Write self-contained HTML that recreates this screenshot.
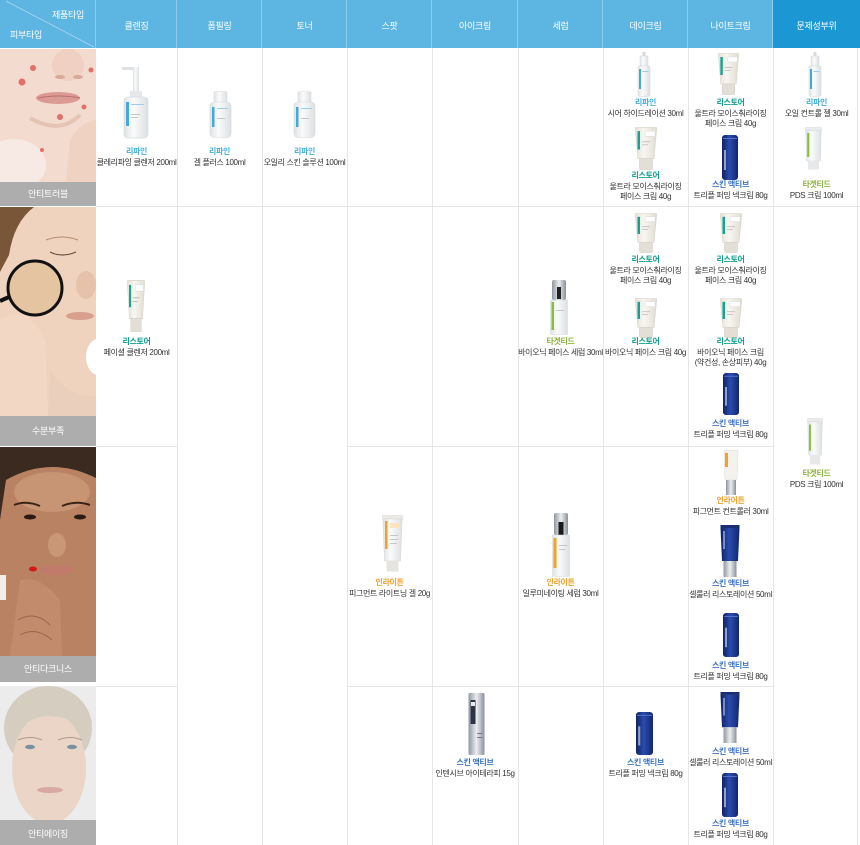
<!DOCTYPE html>
<html><head><meta charset="utf-8">
<style>
*{margin:0;padding:0;box-sizing:border-box}
body{width:860px;height:845px;overflow:hidden;background:#fff;position:relative;font-family:"Liberation Sans","Noto Sans CJK KR",sans-serif}
.a{position:absolute}
.ht{position:absolute;top:0;height:48px;color:#fff;font-size:9px;text-align:center;line-height:52px;letter-spacing:-0.3px;white-space:nowrap}
.tb{position:absolute;text-align:center;font-size:8px;line-height:10.5px;color:#333;letter-spacing:-0.35px;white-space:nowrap}
.tb b{display:block;font-weight:bold}
.rf{color:#45b1dc}.rs{color:#14a08e}.sa{color:#3d75c0}.tg{color:#8db342}.en{color:#f0a12e}
.bt{position:absolute;left:0;width:96px;color:#fff;font-size:9px;text-align:center;letter-spacing:-0.3px}
</style></head><body>
<svg class="a" style="left:0;top:0" width="860" height="845" viewBox="0 0 860 845">
<defs>
<linearGradient id="navy" x1="0" x2="1"><stop offset="0" stop-color="#10225f"/><stop offset=".45" stop-color="#2a4cb0"/><stop offset="1" stop-color="#13266a"/></linearGradient>
<linearGradient id="silver" x1="0" x2="1"><stop offset="0" stop-color="#9096a0"/><stop offset=".5" stop-color="#eceef1"/><stop offset="1" stop-color="#8a909a"/></linearGradient>
<linearGradient id="white" x1="0" x2="1"><stop offset="0" stop-color="#dfe2e4"/><stop offset=".4" stop-color="#fafbfb"/><stop offset="1" stop-color="#dcdfe2"/></linearGradient>
<linearGradient id="cream" x1="0" x2="1"><stop offset="0" stop-color="#e6e2d9"/><stop offset=".4" stop-color="#f8f6f1"/><stop offset="1" stop-color="#e1ddd3"/></linearGradient>

<symbol id="pump" viewBox="0 0 32 75" preserveAspectRatio="none">
<rect x="2" y="3" width="15" height="3" rx="1" fill="#dfe2e5"/>
<rect x="13" y="3" width="6" height="28" fill="url(#white)"/>
<rect x="10" y="27" width="12" height="6" fill="#e6e9eb"/>
<rect x="4" y="33" width="24" height="41" rx="4" fill="url(#white)" stroke="#d8dde0" stroke-width=".7"/>
<rect x="6" y="38" width="3" height="24" fill="#46a9db"/>
<rect x="11" y="40" width="13" height="1" fill="#9ecde8"/>
<rect x="11" y="50" width="9" height=".8" fill="#bbb"/>
<rect x="11" y="53" width="7" height=".8" fill="#bbb"/>
</symbol>
<symbol id="bottle" viewBox="0 0 23 47" preserveAspectRatio="none">
<rect x="5" y="0.5" width="13" height="12" rx="1.5" fill="url(#white)" stroke="#d9dde0" stroke-width=".6"/>
<rect x="1" y="11" width="21" height="35.5" rx="4" fill="url(#white)" stroke="#d6dadd" stroke-width=".6"/>
<rect x="3" y="16" width="2.5" height="20" fill="#46a9db"/>
<rect x="8" y="17" width="11" height="1" fill="#9ecde8"/>
<rect x="8" y="27" width="8" height=".8" fill="#bbb"/>
</symbol>
<symbol id="spray" viewBox="0 0 14 45" preserveAspectRatio="none">
<rect x="5.5" y="0" width="3" height="5" fill="#d8dbde"/>
<rect x="3" y="4" width="8" height="10" fill="url(#white)" stroke="#d8dbde" stroke-width=".5"/>
<rect x="1" y="14" width="12" height="30.5" rx="1.5" fill="url(#white)" stroke="#d6dadd" stroke-width=".5"/>
<rect x="2" y="17" width="2" height="20" fill="#46a9db"/>
<rect x="5.5" y="19" width="6" height="1" fill="#9ecde8"/>
</symbol>
<symbol id="rtube" viewBox="0 0 22 42" preserveAspectRatio="none">
<path d="M0.5 0.5H21.5V3.5L19 31H3L0.5 3.5Z" fill="url(#cream)" stroke="#d6d1c6" stroke-width=".6"/>
<rect x="4.5" y="31" width="13" height="10.5" rx="1" fill="#e3dfd6" stroke="#d0cbc1" stroke-width=".5"/>
<rect x="2.5" y="4" width="2.5" height="18" fill="#17a28f"/>
<rect x="10" y="4" width="10" height="5" fill="#fff" stroke="#cfd8d6" stroke-width=".4"/>
<rect x="7" y="14" width="8" height=".8" fill="#bbb"/>
<rect x="7" y="17" width="6" height=".8" fill="#bbb"/>
</symbol>
<symbol id="gtube" viewBox="0 0 17 43" preserveAspectRatio="none">
<rect x="0.5" y="0.5" width="16" height="3" fill="#e9ebec" stroke="#d7dadc" stroke-width=".5"/>
<path d="M0.8 3.5H16.2L15.4 34H1.6Z" fill="url(#white)" stroke="#d7dadc" stroke-width=".5"/>
<rect x="3" y="34" width="11" height="8.5" fill="#e6e8e9"/>
<rect x="2.2" y="6" width="2" height="24" fill="#8dbb3a"/>
</symbol>
<symbol id="otube" viewBox="0 0 21 57" preserveAspectRatio="none">
<rect x="0.5" y="0.5" width="20" height="3.5" fill="#eceae6" stroke="#d9d6d0" stroke-width=".5"/>
<path d="M0.8 4H20.2L18.5 46H2.5Z" fill="url(#white)" stroke="#d9d6d0" stroke-width=".5"/>
<rect x="4.5" y="46" width="12" height="10.5" fill="#e6e4e0"/>
<rect x="3" y="6" width="2.5" height="28" fill="#f2a22a"/>
<rect x="8" y="8" width="9" height="5" fill="#fbe3bf"/>
<rect x="8" y="20" width="8" height=".8" fill="#bbb"/>
<rect x="8" y="24" width="8" height=".8" fill="#bbb"/>
<rect x="8" y="28" width="7" height=".8" fill="#bbb"/>
</symbol>
<symbol id="ntube" viewBox="0 0 20 52" preserveAspectRatio="none">
<rect x="0.5" y="0" width="19" height="3" fill="#1a2d70"/>
<path d="M0.5 3H19.5L18 36H2Z" fill="url(#navy)"/>
<rect x="3.5" y="36" width="13" height="16" fill="url(#silver)"/>
<rect x="3" y="6" width="2" height="18" fill="#9fb3e6" opacity=".7"/>
</symbol>
<symbol id="jar" viewBox="0 0 16 45" preserveAspectRatio="none">
<rect x="0" y="0" width="16" height="45" rx="3" fill="url(#navy)"/>
<rect x="1" y="3" width="14" height="1" fill="#5575d0"/>
<rect x="2" y="15" width="2" height="20" fill="#c8d0e8" opacity=".7"/>
</symbol>
<symbol id="tserum" viewBox="0 0 18 55" preserveAspectRatio="none">
<rect x="2" y="0" width="14" height="20" rx="2" fill="url(#silver)"/>
<rect x="7" y="7" width="4" height="12" fill="#222"/>
<rect x="0.5" y="20" width="17" height="34.5" fill="url(#white)" stroke="#d6d9dc" stroke-width=".5"/>
<rect x="1.5" y="22" width="2.5" height="28" fill="#8dbb3a"/>
<rect x="6" y="30" width="8" height=".8" fill="#bbb"/>
</symbol>
<symbol id="eserum" viewBox="0 0 18 64" preserveAspectRatio="none">
<rect x="2" y="0" width="14" height="22" rx="2" fill="url(#silver)"/>
<rect x="6.5" y="9" width="5" height="13" fill="#1a1a1a"/>
<rect x="0.5" y="22" width="17" height="41.5" fill="url(#white)" stroke="#d6d9dc" stroke-width=".5"/>
<rect x="1.5" y="25" width="3" height="30" fill="#f2a22a"/>
<rect x="7" y="32" width="8" height=".8" fill="#bbb"/>
<rect x="7" y="36" width="6" height=".8" fill="#bbb"/>
</symbol>
<symbol id="pctrl" viewBox="0 0 16 45" preserveAspectRatio="none">
<path d="M1 0.5H15V2.5L14 30H2L1 2.5Z" fill="#f4f2ed" stroke="#dedbd4" stroke-width=".5"/>
<rect x="2" y="3" width="3" height="14" fill="#f2a22a"/>
<rect x="3" y="30" width="10" height="15" fill="url(#silver)"/>
</symbol>
<symbol id="eye" viewBox="0 0 17 62" preserveAspectRatio="none">
<rect x="0.5" y="0" width="16" height="62" rx="1.5" fill="url(#silver)"/>
<rect x="2.5" y="7" width="5" height="24" fill="#2c3446"/>
<rect x="3" y="9" width="4" height="4" fill="#e8eaee"/>
<rect x="9" y="40" width="5" height=".8" fill="#666"/>
<rect x="9" y="44" width="5" height=".8" fill="#666"/>
</symbol>
</defs>

<!-- header -->
<rect x="0" y="0" width="773" height="48" fill="#5db5e2"/>
<rect x="773" y="0" width="87" height="48" fill="#1b98d3"/>
<g fill="#8fcdee">
<rect x="95" y="0" width="1" height="48"/><rect x="176" y="0" width="1" height="48"/><rect x="261" y="0" width="1" height="48"/><rect x="346" y="0" width="1" height="48"/><rect x="431" y="0" width="1" height="48"/><rect x="517" y="0" width="1" height="48"/><rect x="602" y="0" width="1" height="48"/><rect x="687" y="0" width="1" height="48"/><rect x="772" y="0" width="1" height="48"/>
</g>
<line x1="6" y1="1" x2="94" y2="47" stroke="#a8d8f0" stroke-width="0.8"/>

<!-- grid -->
<g fill="#e6e6e6">
<rect x="177" y="48" width="1" height="797"/><rect x="262" y="48" width="1" height="797"/><rect x="347" y="48" width="1" height="797"/><rect x="432" y="48" width="1" height="797"/><rect x="518" y="48" width="1" height="797"/><rect x="603" y="48" width="1" height="797"/><rect x="688" y="48" width="1" height="797"/><rect x="773" y="48" width="1" height="797"/><rect x="857" y="48" width="1" height="797"/>
<rect x="96" y="206" width="764" height="1"/>
<rect x="96" y="446" width="81" height="1"/><rect x="347" y="446" width="426" height="1"/>
<rect x="96" y="686" width="81" height="1"/><rect x="347" y="686" width="426" height="1"/>
</g>

<!-- photo 1 -->
<rect x="0" y="49" width="96" height="133" fill="#f3dbcf"/>
<ellipse cx="14" cy="165" rx="32" ry="26" fill="#f7e9e3"/>
<ellipse cx="68" cy="65" rx="16" ry="16" fill="#efd0c2"/>
<ellipse cx="60" cy="77" rx="5" ry="2" fill="#d9a898"/><ellipse cx="78" cy="77" rx="5" ry="2" fill="#d9a898"/>
<ellipse cx="58" cy="98" rx="22" ry="6" fill="#dc9a94"/>
<path d="M38 98 Q58 94 80 98" stroke="#b87070" stroke-width="1" fill="none"/>
<path d="M30 118 Q60 135 80 115" stroke="#e6c4b4" stroke-width="4" fill="none"/>
<path d="M66 182 L70 140 Q80 122 96 120 V182Z" fill="#f0d2c2"/>
<g fill="#e07068"><circle cx="33" cy="68" r="3"/><circle cx="22" cy="82" r="3.5"/><circle cx="60" cy="117" r="3"/><circle cx="91" cy="70" r="2.5"/><circle cx="84" cy="107" r="2.5"/><circle cx="42" cy="150" r="2"/></g>
<rect x="0" y="182" width="96" height="24" fill="#adadad"/>

<!-- photo 2 -->
<rect x="0" y="207" width="96" height="209" fill="#efd3be"/>
<path d="M0 207 H34 Q14 222 9 255 L0 272Z" fill="#7a5638"/>
<path d="M50 252 Q62 258 76 252" stroke="#6a4a3a" stroke-width="1.2" fill="none"/>
<path d="M46 240 Q62 234 78 240" stroke="#b08a70" stroke-width="1" fill="none"/>
<ellipse cx="86" cy="285" rx="10" ry="14" fill="#e6c2aa"/>
<ellipse cx="80" cy="316" rx="14" ry="4" fill="#d9a08e"/>
<ellipse cx="98" cy="357" rx="12" ry="18" fill="#ffffff"/>
<path d="M0 320 Q25 300 45 340 L48 416 H0Z" fill="#f2d8c4"/>
<path d="M50 370 Q70 400 96 395 V416 H48Z" fill="#ead0bc"/>
<circle cx="35" cy="288" r="27" fill="#e5c4a2" stroke="#111" stroke-width="3"/>
<line x1="9" y1="297" x2="0" y2="301" stroke="#111" stroke-width="4"/>
<rect x="0" y="416" width="96" height="30" fill="#adadad"/>

<!-- photo 3 -->
<rect x="0" y="447" width="96" height="209" fill="#b98262"/>
<path d="M0 447 H96 V478 Q50 455 6 480 L0 520Z" fill="#3b2a20"/>
<ellipse cx="52" cy="492" rx="38" ry="20" fill="#c79474"/>
<path d="M14 505 Q26 500 40 506 M62 506 Q76 500 90 505" stroke="#3a2418" stroke-width="2" fill="none"/>
<ellipse cx="30" cy="517" rx="6" ry="2.5" fill="#2a1a12"/><ellipse cx="80" cy="517" rx="6" ry="2.5" fill="#2a1a12"/>
<ellipse cx="57" cy="545" rx="9" ry="12" fill="#c99676"/>
<ellipse cx="57" cy="570" rx="17" ry="5" fill="#c27a6a"/>
<ellipse cx="33" cy="569" rx="4" ry="2.5" fill="#d41818"/>
<path d="M20 580 Q40 575 60 600 L62 656 H10Z" fill="#c28c6c"/>
<path d="M18 620 Q35 610 50 625 M20 635 Q36 626 52 640" stroke="#9a6448" stroke-width="1" fill="none"/>
<rect x="0" y="575" width="6" height="25" fill="#f4ece6"/>
<rect x="0" y="656" width="96" height="26" fill="#adadad"/>

<!-- photo 4 -->
<rect x="0" y="686" width="96" height="134" fill="#ececec"/>
<ellipse cx="48" cy="728" rx="44" ry="42" fill="#d5cdbf"/>
<ellipse cx="49" cy="768" rx="37" ry="56" fill="#ead5c6"/>
<path d="M14 735 Q40 700 90 730 L92 720 Q60 690 20 705Z" fill="#d5cdbf"/>
<path d="M18 740 Q30 735 42 740 M58 740 Q70 735 82 740" stroke="#b09a88" stroke-width="1" fill="none"/>
<ellipse cx="30" cy="747" rx="5" ry="2.2" fill="#7a90a0"/><ellipse cx="72" cy="747" rx="5" ry="2.2" fill="#7a90a0"/>
<ellipse cx="50" cy="790" rx="13" ry="3" fill="#d9a8a0"/>
<rect x="0" y="820" width="96" height="25" fill="#adadad"/>

<!-- products -->
<use href="#pump" x="120" y="64" width="32" height="75"/>
<use href="#bottle" x="209" y="91" width="23" height="47"/>
<use href="#bottle" x="293" y="91" width="23" height="47"/>
<use href="#spray" x="637" y="52" width="14" height="45"/>
<use href="#rtube" x="635" y="127" width="22" height="43"/>
<use href="#rtube" x="718" y="53" width="21" height="42"/>
<use href="#jar" x="722" y="135" width="16" height="45"/>
<use href="#spray" x="808" y="52" width="14" height="45"/>
<use href="#gtube" x="805" y="127" width="17" height="43"/>
<use href="#rtube" x="127" y="280" width="18" height="52"/>
<use href="#tserum" x="550" y="280" width="18" height="55"/>
<use href="#rtube" x="635" y="213" width="22" height="40"/>
<use href="#rtube" x="635" y="298" width="22" height="40"/>
<use href="#rtube" x="720" y="213" width="22" height="40"/>
<use href="#rtube" x="720" y="298" width="22" height="40"/>
<use href="#jar" x="723" y="373" width="16" height="42"/>
<use href="#gtube" x="807" y="418" width="16" height="47"/>
<use href="#otube" x="382" y="515" width="21" height="57"/>
<use href="#eserum" x="552" y="513" width="18" height="64"/>
<use href="#pctrl" x="723" y="450" width="16" height="45"/>
<use href="#ntube" x="720" y="525" width="20" height="52"/>
<use href="#jar" x="723" y="613" width="16" height="44"/>
<use href="#eye" x="468" y="693" width="17" height="62"/>
<use href="#jar" x="636" y="712" width="17" height="43"/>
<use href="#ntube" x="720" y="692" width="20" height="51"/>
<use href="#jar" x="722" y="773" width="16" height="44"/>
</svg>

<!-- header text -->
<div class="a" style="left:52px;top:8px;color:#fff;font-size:9px;letter-spacing:-0.3px">제품타입</div>
<div class="a" style="left:10px;top:28px;color:#fff;font-size:9px;letter-spacing:-0.3px">피부타입</div>
<div class="ht" style="left:96px;width:81px">클렌징</div>
<div class="ht" style="left:177px;width:85px">폼필링</div>
<div class="ht" style="left:262px;width:85px">토너</div>
<div class="ht" style="left:347px;width:85px">스팟</div>
<div class="ht" style="left:432px;width:86px">아이크림</div>
<div class="ht" style="left:518px;width:85px">세럼</div>
<div class="ht" style="left:603px;width:85px">데이크림</div>
<div class="ht" style="left:688px;width:85px">나이트크림</div>
<div class="ht" style="left:773px;width:87px">문제성부위</div>

<!-- photo labels -->
<div class="bt" style="top:187px">안티트러블</div>
<div class="bt" style="top:424px">수분부족</div>
<div class="bt" style="top:662px">안티다크니스</div>
<div class="bt" style="top:827px">안티에이징</div>

<!-- row 1 -->
<div class="tb" style="left:96px;width:81px;top:147px"><b class="rf">리파인</b>클레리파잉 클렌저 200ml</div>
<div class="tb" style="left:177px;width:85px;top:147px"><b class="rf">리파인</b>겔 플러스 100ml</div>
<div class="tb" style="left:262px;width:85px;top:147px"><b class="rf">리파인</b>오일리 스킨 솔루션 100ml</div>
<div class="tb" style="left:603px;width:85px;top:98px"><b class="rf">리파인</b>시어 하이드레이션 30ml</div>
<div class="tb" style="left:603px;width:85px;top:171px"><b class="rs">리스토어</b>울트라 모이스춰라이징<br>페이스 크림 40g</div>
<div class="tb" style="left:688px;width:85px;top:98px"><b class="rs">리스토어</b>울트라 모이스춰라이징<br>페이스 크림 40g</div>
<div class="tb" style="left:688px;width:85px;top:180px"><b class="sa">스킨 액티브</b>트리플 퍼밍 넥크림 80g</div>
<div class="tb" style="left:773px;width:87px;top:98px"><b class="rf">리파인</b>오일 컨트롤 젤 30ml</div>
<div class="tb" style="left:773px;width:87px;top:180px"><b class="tg">타겟티드</b>PDS 크림 100ml</div>

<!-- row 2 -->
<div class="tb" style="left:96px;width:81px;top:337px"><b class="rs">리스토어</b>페이셜 클렌저 200ml</div>
<div class="tb" style="left:518px;width:85px;top:337px"><b class="tg">타겟티드</b>바이오닉 페이스 세럼 30ml</div>
<div class="tb" style="left:603px;width:85px;top:255px"><b class="rs">리스토어</b>울트라 모이스춰라이징<br>페이스 크림 40g</div>
<div class="tb" style="left:603px;width:85px;top:337px"><b class="rs">리스토어</b>바이오닉 페이스 크림 40g</div>
<div class="tb" style="left:688px;width:85px;top:255px"><b class="rs">리스토어</b>울트라 모이스춰라이징<br>페이스 크림 40g</div>
<div class="tb" style="left:688px;width:85px;top:337px"><b class="rs">리스토어</b>바이오닉 페이스 크림<br>(약건성, 손상피부) 40g</div>
<div class="tb" style="left:688px;width:85px;top:419px"><b class="sa">스킨 액티브</b>트리플 퍼밍 넥크림 80g</div>
<div class="tb" style="left:773px;width:87px;top:469px"><b class="tg">타겟티드</b>PDS 크림 100ml</div>

<!-- row 3 -->
<div class="tb" style="left:347px;width:85px;top:578px"><b class="en">인라이튼</b>피그먼트 라이트닝 겔 20g</div>
<div class="tb" style="left:518px;width:85px;top:578px"><b class="en">인라이튼</b>일루미네이팅 세럼 30ml</div>
<div class="tb" style="left:688px;width:85px;top:496px"><b class="en">인라이튼</b>피그먼트 컨트롤러 30ml</div>
<div class="tb" style="left:688px;width:85px;top:579px"><b class="sa">스킨 액티브</b>셀룰러 리스토레이션 50ml</div>
<div class="tb" style="left:688px;width:85px;top:661px"><b class="sa">스킨 액티브</b>트리플 퍼밍 넥크림 80g</div>

<!-- row 4 -->
<div class="tb" style="left:432px;width:86px;top:758px"><b class="sa">스킨 액티브</b>인텐시브 아이테라피 15g</div>
<div class="tb" style="left:603px;width:85px;top:758px"><b class="sa">스킨 액티브</b>트리플 퍼밍 넥크림 80g</div>
<div class="tb" style="left:688px;width:85px;top:747px"><b class="sa">스킨 액티브</b>셀룰러 리스토레이션 50ml</div>
<div class="tb" style="left:688px;width:85px;top:819px"><b class="sa">스킨 액티브</b>트리플 퍼밍 넥크림 80g</div>
</body></html>
